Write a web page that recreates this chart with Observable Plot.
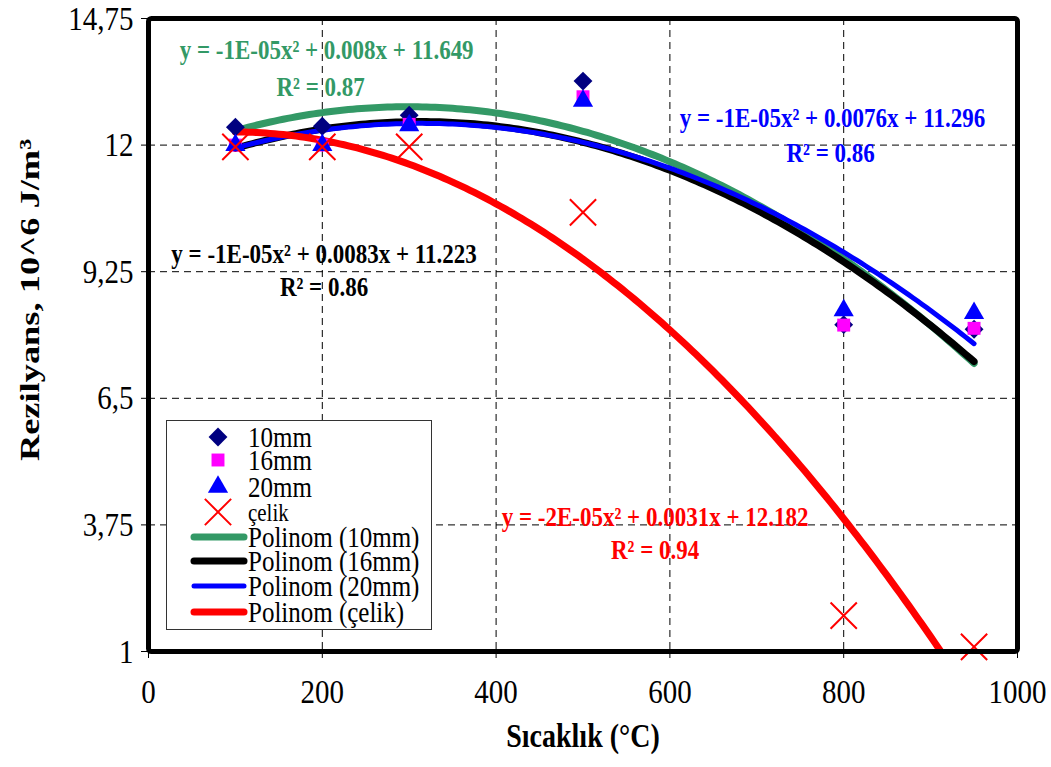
<!DOCTYPE html>
<html>
<head>
<meta charset="utf-8">
<script src="https://cdn.jsdelivr.net/npm/d3@7"></script>
<script src="https://cdn.jsdelivr.net/npm/@observablehq/plot@0.6"></script>
<style>
  body { margin: 0; background: #fff; }
  #wrap { position: relative; width: 1051px; height: 767px; }
  #wrap svg, #wrap svg text {
    font-family: "Liberation Serif", "Times New Roman", Tinos, Times, "DejaVu Serif", serif;
  }
  #legend { position: absolute; left: 166px; top: 420px; }
</style>
</head>
<body>
<div id="wrap"></div>
<script>
// Temperatures (°C) and resilience (10^6 J/m³) per specimen series
const temps = [100, 200, 300, 500, 800, 950];
const s10mm = [12.39, 12.41, 12.65, 13.39, 8.1, 8.0];
const s16mm = [12.0, 12.0, 12.45, 13.05, 8.09, 8.02];
const s20mm = [12.0, 12.0, 12.43, 12.96, 8.41, 8.35];
const sCelik = [11.96, 11.96, 11.96, 10.54, 1.78, 1.1];

const seriesNames = ["10mm", "16mm", "20mm", "çelik"];
const seriesValues = [s10mm, s16mm, s20mm, sCelik];
const xTicks = [0, 200, 400, 600, 800, 1000];
const yTicks = [1, 3.75, 6.5, 9.25, 12, 14.75];

// Trendline equations as printed next to each curve
const eqSeries = ["10mm", "20mm", "16mm", "çelik"];
const eqText = [
  "y = -1E-05x² + 0.008x + 11.649",
  "y = -1E-05x² + 0.0076x + 11.296",
  "y = -1E-05x² + 0.0083x + 11.223",
  "y = -2E-05x² + 0.0031x + 12.182"
];
const r2Text = ["R² = 0.87", "R² = 0.86", "R² = 0.86", "R² = 0.94"];
const eqX = [205, 787, 202, 583];
const eqY = [14.07, 12.59, 9.63, 3.91];
const r2Y = [13.26, 11.83, 8.91, 3.2];
const r2X = [198, 785, 202, 583];

const colors = {"10mm": "#000080", "16mm": "#ff00ff", "20mm": "#0000ff", "çelik": "#ff0000"};
const trendColors = {"10mm": "#339966", "16mm": "#000000", "20mm": "#0000ff", "çelik": "#ff0000"};
const trendWidths = {"10mm": 7, "16mm": 7, "20mm": 5, "çelik": 7};

// Long-format point table
const points = seriesNames.flatMap((s, i) =>
  temps.map((t, j) => ({series: s, x: t, y: seriesValues[i][j]})));

// Least-squares quadratic fit (Excel "Polinom" order 2 trendline)
function quadFit(xs, ys) {
  const n = xs.length;
  let S = [0, 0, 0, 0, 0], T = [0, 0, 0];
  for (let i = 0; i < n; i++) {
    for (let k = 0; k < 5; k++) S[k] += Math.pow(xs[i], k);
    for (let k = 0; k < 3; k++) T[k] += ys[i] * Math.pow(xs[i], k);
  }
  const A = [[S[0], S[1], S[2], T[0]], [S[1], S[2], S[3], T[1]], [S[2], S[3], S[4], T[2]]];
  for (let c = 0; c < 3; c++) {
    for (let r = c + 1; r < 3; r++) {
      const f = A[r][c] / A[c][c];
      for (let k = c; k < 4; k++) A[r][k] -= f * A[c][k];
    }
  }
  const b = [0, 0, 0];
  for (let r = 2; r >= 0; r--) {
    let s = A[r][3];
    for (let k = r + 1; k < 3; k++) s -= A[r][k] * b[k];
    b[r] = s / A[r][r];
  }
  return x => b[0] + b[1] * x + b[2] * x * x;
}

const trendOrder = ["10mm", "16mm", "20mm", "çelik"];
const trends = trendOrder.flatMap(s => {
  const i = seriesNames.indexOf(s);
  const f = quadFit(temps, seriesValues[i]);
  return d3.range(100, 950.01, 5).map(x => ({series: s, x, y: f(x)}));
});

const annotations = eqSeries.flatMap((s, i) => [
  {series: s, x: eqX[i], y: eqY[i], text: eqText[i]},
  {series: s, x: r2X[i], y: r2Y[i], text: r2Text[i]}
]);

const dash = "7,5";
const symbolOf = {"10mm": "diamond2", "16mm": "square", "20mm": "triangle"};
const rOf = {"10mm": 8.5, "16mm": 7.3, "20mm": 7.5};
const serif = "Liberation Serif, Times New Roman, Tinos, Times, DejaVu Serif, serif";
const yTitle = "Rezilyans, 10^6 J/m³";

const chart = Plot.plot({
  width: 1051,
  height: 767,
  marginLeft: 148,
  marginRight: 34,
  marginTop: 18,
  marginBottom: 116,
  style: {fontSize: "29px", fontFamily: serif, background: "#fff"},
  x: {domain: [0, 1000], ticks: xTicks, tickSize: 7, tickPadding: 22, label: null,
      tickFormat: d => String(d)},
  y: {domain: [1, 14.75], ticks: yTicks, tickSize: 7, tickPadding: 8, label: null,
      tickFormat: d => String(d).replace(".", ",")},
  marks: [
    Plot.ruleX(xTicks.filter(t => t > 0 && t < 1000), {stroke: "#000", strokeWidth: 1, strokeDasharray: dash}),
    Plot.ruleY(yTicks.filter(t => t > 1 && t < 14.75), {stroke: "#000", strokeWidth: 1, strokeDasharray: dash}),
    ...trendOrder.map(s => Plot.line(trends.filter(d => d.series === s), {
      x: "x", y: "y", stroke: trendColors[s], strokeWidth: trendWidths[s],
      strokeLinecap: "round", clip: true
    })),
    ...["10mm", "16mm", "20mm"].map(s => Plot.dot(points.filter(d => d.series === s), {
      x: "x", y: "y", symbol: () => symbolOf[s], r: rOf[s], fill: colors[s], stroke: "none"
    })),
    Plot.dot(points.filter(d => d.series === "çelik"), {
      x: "x", y: "y", symbol: "times", r: 12, stroke: colors["çelik"], strokeWidth: 2
    }),
    Plot.text(annotations, {
      x: "x", y: "y", text: "text", fill: d => trendColors[d.series],
      fontSize: 23, fontWeight: "bold", fontFamily: serif
    }),
    Plot.text(["Sıcaklık (°C)"], {frameAnchor: "bottom", dy: 94, fontSize: 28, fontWeight: "bold", fontFamily: serif}),
    Plot.text([yTitle], {frameAnchor: "left", textAnchor: "middle", dx: -118, dy: -35, rotate: -90, fontSize: 28, fontWeight: "bold", fontFamily: serif}),
    Plot.frame({stroke: "#000", strokeWidth: 5, rx: 3})
  ]
});
document.getElementById("wrap").appendChild(chart);

// Legend box
const legendRows = [
  {kind: "dot", s: "10mm", label: "10mm"},
  {kind: "dot", s: "16mm", label: "16mm"},
  {kind: "dot", s: "20mm", label: "20mm"},
  {kind: "x", s: "çelik", label: "çelik"},
  {kind: "line", s: "10mm", label: "Polinom (10mm)"},
  {kind: "line", s: "16mm", label: "Polinom (16mm)"},
  {kind: "line", s: "20mm", label: "Polinom (20mm)"},
  {kind: "line", s: "çelik", label: "Polinom (çelik)"}
];
const rowY = [17, 40, 67, 92, 117, 141, 166, 192];
const lg = d3.create("svg").attr("id", "legend").attr("width", 266).attr("height", 210)
  .attr("font-family", serif);
lg.append("rect").attr("x", 0.5).attr("y", 0.5).attr("width", 265).attr("height", 209)
  .attr("fill", "#fff").attr("stroke", "#333").attr("stroke-width", 1);
legendRows.forEach((row, i) => {
  const y = rowY[i];
  const g = lg.append("g");
  if (row.kind === "dot") {
    const sym = {"10mm": d3.symbolDiamond2, "16mm": d3.symbolSquare, "20mm": d3.symbolTriangle}[row.s];
    g.append("path").attr("transform", `translate(52,${y})`)
      .attr("d", d3.symbol(sym, Math.PI * rOf[row.s] * rOf[row.s])()).attr("fill", colors[row.s]);
  } else if (row.kind === "x") {
    g.append("path").attr("transform", `translate(52,${y})`)
      .attr("d", d3.symbol(d3.symbolTimes, Math.PI * 144)()).attr("fill", "none")
      .attr("stroke", colors[row.s]).attr("stroke-width", 2);
  } else {
    g.append("line").attr("x1", 28).attr("x2", 78).attr("y1", y).attr("y2", y)
      .attr("stroke", trendColors[row.s]).attr("stroke-width", trendWidths[row.s])
      .attr("stroke-linecap", "round");
  }
  g.append("text").attr("x", 82).attr("y", y).attr("dy", "0.35em")
    .attr("font-size", row.kind === "x" ? 21 : 25).text(row.label);
});
document.getElementById("wrap").appendChild(lg.node());

// The lettering is set tall and narrow: stretch every label vertically about its own centre
const stretch = 1.18;
document.querySelectorAll("#wrap svg text").forEach(el => {
  const b = el.getBBox();
  const t = el.getAttribute("transform") || "";
  if (el.textContent === yTitle) {
    const cx = b.x + b.width / 2;
    el.setAttribute("transform", `${t} translate(${cx},0) scale(1.3,1) translate(${-cx},0)`);
  } else {
    const cy = b.y + b.height / 2;
    el.setAttribute("transform", `${t} translate(0,${cy}) scale(1,${stretch}) translate(0,${-cy})`);
  }
});
</script>
</body>
</html>
